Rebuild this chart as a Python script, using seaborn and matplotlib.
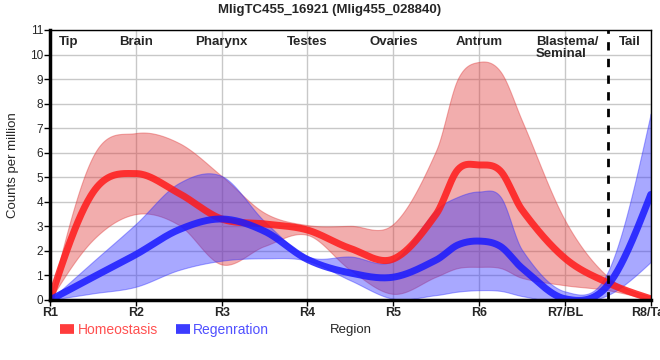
"""Smoothed expression profile along the body axis, two conditions with bands."""
import matplotlib
matplotlib.use("Agg")
import matplotlib.pyplot as plt
from matplotlib.lines import Line2D
import numpy as np
import pandas as pd
import seaborn as sns

TITLE = "MligTC455_16921 (Mlig455_028840)"
tick_labels = ["R1", "R2", "R3", "R4", "R5", "R6", "R7/BL", "R8/Tail"]
region_names = ["Tip", "Brain", "Pharynx", "Testes", "Ovaries", "Antrum",
                "Blastema/\nSeminal", "Tail"]
region_pos = [0.22, 1.0, 2.0, 3.0, 4.0, 5.0, 5.66, 6.76]
region_ha = ["center"] * 6 + ["left", "center"]

pos = [0, 0.5, 1, 1.5, 2, 2.5, 3, 3.5, 4, 4.5, 4.75, 5, 5.25, 5.5, 6, 6.5, 7]
homeo_mean = [0.0, 4.38, 5.15, 4.35, 3.3, 3.1, 2.85, 2.1, 1.67, 3.5, 5.3, 5.5, 5.25, 3.67, 1.7, 0.7, 0.05]
homeo_hi = [0.0, 5.85, 6.8, 6.4, 5.05, 3.55, 3.05, 3.02, 3.1, 6.1, 9.0, 9.7, 9.3, 7.3, 3.25, 0.95, 0.15]
homeo_lo = [0.0, 2.45, 3.5, 3.06, 1.45, 2.2, 2.65, 1.22, 0.25, 0.95, 1.3, 1.35, 1.3, 0.9, 0.6, 0.4, 0.0]
regen_mean = [0.0, 0.93, 1.85, 2.86, 3.3, 2.8, 1.65, 1.1, 0.93, 1.63, 2.24, 2.4, 2.18, 1.3, 0.05, 0.6, 4.3]
regen_hi = [0.0, 1.56, 3.1, 4.76, 5.05, 3.2, 1.78, 1.77, 1.6, 3.67, 4.2, 4.42, 4.2, 2.04, 0.35, 1.15, 7.6]
regen_lo = [0.0, 0.27, 0.54, 1.22, 1.6, 1.7, 1.6, 0.8, 0.05, 0.2, 0.34, 0.4, 0.37, 0.16, -0.1, 0.2, 1.55]

RED, BLUE = "#ff1a1a", "#1a1aff"


def smooth(x, y, n=40):
    """Catmull-Rom curve through the given points (drawing only)."""
    x = np.asarray(x, float)
    y = np.asarray(y, float)
    h = np.diff(x)
    s = np.diff(y) / h
    t = np.zeros_like(y)
    t[1:-1] = (y[2:] - y[:-2]) / (x[2:] - x[:-2])
    t[0] = (3 * s[0] - t[1]) / 2
    t[-1] = (3 * s[-1] - t[-2]) / 2
    u = np.linspace(0, 1, n, endpoint=False)
    h00 = 2 * u**3 - 3 * u**2 + 1
    h10 = u**3 - 2 * u**2 + u
    h01 = -2 * u**3 + 3 * u**2
    h11 = u**3 - u**2
    xs, ys = [], []
    for i in range(len(y) - 1):
        xs.append(x[i] + u * h[i])
        ys.append(h00 * y[i] + h10 * h[i] * t[i] + h01 * y[i + 1] + h11 * h[i] * t[i + 1])
    xs.append([x[-1]])
    ys.append([y[-1]])
    return np.concatenate(xs), np.concatenate(ys)


sns.set_theme(style="whitegrid")
plt.rcParams["font.family"] = ["Liberation Sans", "DejaVu Sans"]

fig, ax = plt.subplots(figsize=(6.6, 3.6), dpi=100)
fig.subplots_adjust(left=0.0758, right=0.986, bottom=0.1667, top=0.9167)

for lo, hi, col in [(homeo_lo, homeo_hi, "#e03c3c"), (regen_lo, regen_hi, "#3030ff")]:
    xs, ylo = smooth(pos, lo)
    _, yhi = smooth(pos, hi)
    ax.fill_between(xs, ylo, yhi, color=col, alpha=0.42, lw=0.8, zorder=2)

rows = []
for name, vals in [("Homeostasis", homeo_mean), ("Regenration", regen_mean)]:
    xs, ys = smooth(pos, vals)
    rows.append(pd.DataFrame({"x": xs, "y": ys, "cond": name}))
df = pd.concat(rows, ignore_index=True)
sns.lineplot(data=df, x="x", y="y", hue="cond", palette={"Homeostasis": RED, "Regenration": BLUE},
             lw=5, alpha=0.85, ax=ax, legend=False, zorder=3, sort=False)

ax.axvline(6.5, color="black", lw=2, ls=(0, (3, 3)), zorder=4)

ax.set_xlim(0, 7)
ax.set_ylim(0, 11)
ax.set_xticks(range(8))
ax.set_xticklabels(tick_labels, fontweight="bold", fontsize=9)
ax.set_yticks(range(12))
ax.tick_params(axis="y", labelsize=8.5, length=4, width=1, color="black", pad=1, left=True)
ax.tick_params(axis="x", length=4, width=1, color="black", pad=1, bottom=True)
ax.grid(True, color="#c8c8c8", lw=1)
ax.set_facecolor("white")
for side in ["top", "right"]:
    ax.spines[side].set_color("black")
    ax.spines[side].set_linewidth(1)
for side in ["left", "bottom"]:
    ax.spines[side].set_color("black")
    ax.spines[side].set_linewidth(2.5)
for sp in ax.spines.values():
    sp.set_zorder(5)

for x, name, ha in zip(region_pos, region_names, region_ha):
    ax.text(x, 10.75, name, ha=ha, va="top", fontsize=9.5, fontweight="bold",
            linespacing=1.0, zorder=6)

ax.set_xlabel("Region", fontsize=9.5, labelpad=4)
ax.set_ylabel("Counts per million", fontsize=9.5, labelpad=8)
fig.suptitle(TITLE, fontsize=9.5, fontweight="bold", y=0.99)

handles = [Line2D([], [], color=RED, lw=7, alpha=0.85, solid_capstyle="butt"),
           Line2D([], [], color=BLUE, lw=7, alpha=0.85, solid_capstyle="butt")]
leg = fig.legend(handles, ["Homeostasis", "Regenration"], loc="center left",
                 bbox_to_anchor=(0.072, 0.083), ncol=2, frameon=False, fontsize=10,
                 handlelength=1.0, handletextpad=0.25, columnspacing=1.3)
for txt, col in zip(leg.get_texts(), ["#ff5050", "#5050ff"]):
    txt.set_color(col)

fig.savefig("out.png", dpi=100)
